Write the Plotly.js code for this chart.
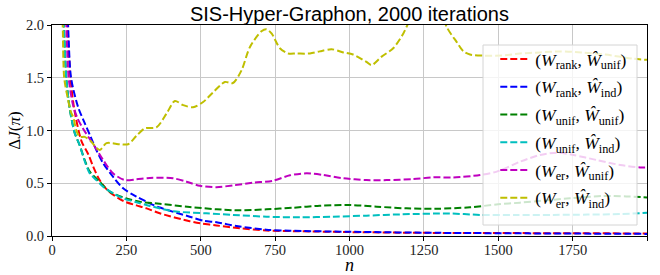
<!DOCTYPE html>
<html>
<head>
<meta charset="utf-8">
<script src="https://cdn.plot.ly/plotly-3.0.1.min.js"></script>
<style>html,body{margin:0;padding:0;background:#fff;}#chart{width:660px;height:275px;}</style>
</head>
<body>
<div id="chart"></div>
<script>
// ---- data ----
const seriesNames = [
  '(<i>W</i><sub>rank</sub>, <i>Ŵ</i><sub>unif</sub>)',
  '(<i>W</i><sub>rank</sub>, <i>Ŵ</i><sub>ind</sub>)',
  '(<i>W</i><sub>unif</sub>, <i>Ŵ</i><sub>unif</sub>)',
  '(<i>W</i><sub>unif</sub>, <i>Ŵ</i><sub>ind</sub>)',
  '(<i>W</i><sub>er</sub>, <i>Ŵ</i><sub>unif</sub>)',
  '(<i>W</i><sub>er</sub>, <i>Ŵ</i><sub>ind</sub>)'
];
const seriesColors = ['#ff0000', '#0000ff', '#008000', '#00bfbf', '#bf00bf', '#bfbf00'];

const rankUnifN = [38, 52, 62, 75, 99, 121, 138, 160, 188, 228, 250, 284, 318, 362, 463, 500, 553, 631, 721, 833, 1000, 1250, 1500, 1750, 2000];
const rankUnifV = [2.8, 2.0, 1.5, 1.2, 0.9, 0.78, 0.66, 0.53, 0.43, 0.35, 0.32, 0.29, 0.262, 0.215, 0.14, 0.12, 0.1, 0.073, 0.052, 0.045, 0.037, 0.03, 0.028, 0.026, 0.024];

const rankIndN = [40, 54, 64, 88, 110, 127, 149, 172, 205, 239, 284, 329, 362, 463, 510, 553, 620, 720, 800, 1000, 1300, 1600, 2000];
const rankIndV = [2.8, 2.0, 1.5, 1.22, 1.07, 0.96, 0.815, 0.69, 0.562, 0.452, 0.373, 0.31, 0.27, 0.183, 0.145, 0.13, 0.095, 0.06, 0.05, 0.04, 0.03, 0.025, 0.02];

const unifUnifN = [30, 40, 48, 60, 76, 93, 110, 127, 160, 194, 250, 295, 362, 463, 553, 631, 721, 811, 900, 1001, 1092, 1192, 1290, 1405, 1500, 1573, 1660, 1741, 1853, 1930, 2000];
const unifUnifV = [2.8, 2.0, 1.5, 1.2, 0.98, 0.86, 0.72, 0.61, 0.515, 0.42, 0.357, 0.325, 0.305, 0.275, 0.253, 0.243, 0.253, 0.268, 0.287, 0.294, 0.278, 0.262, 0.258, 0.272, 0.3, 0.316, 0.338, 0.357, 0.38, 0.375, 0.366];

const unifIndN = [30, 40, 48, 60, 76, 93, 110, 127, 149, 172, 205, 239, 284, 329, 407, 519, 609, 721, 833, 945, 1057, 1170, 1338, 1439, 1560, 1685, 1800, 1910, 2000];
const unifIndV = [2.8, 2.0, 1.5, 1.2, 0.98, 0.86, 0.71, 0.594, 0.53, 0.467, 0.405, 0.357, 0.32, 0.285, 0.235, 0.215, 0.2, 0.183, 0.177, 0.183, 0.193, 0.205, 0.213, 0.2, 0.198, 0.2, 0.203, 0.208, 0.22];

const erUnifN = [35, 48, 56, 70, 85, 104, 144, 172, 205, 245, 284, 329, 407, 452, 497, 553, 609, 676, 743, 800, 856, 912, 979, 1057, 1125, 1214, 1282, 1349, 1439, 1495, 1573, 1640, 1697, 1753, 1831, 1910, 1977, 2000];
const erUnifV = [2.8, 2.0, 1.5, 1.25, 1.12, 1.02, 0.846, 0.72, 0.594, 0.53, 0.537, 0.55, 0.547, 0.515, 0.476, 0.463, 0.48, 0.505, 0.524, 0.575, 0.594, 0.578, 0.547, 0.53, 0.53, 0.54, 0.556, 0.555, 0.578, 0.61, 0.704, 0.768, 0.79, 0.768, 0.72, 0.673, 0.65, 0.65];

const erIndN = [28, 36, 41, 52, 63, 72, 82, 93, 110, 130, 160, 183, 228, 256, 284, 312, 351, 385, 413, 441, 474, 508, 541, 581, 608, 637, 665, 704, 721, 738, 766, 794, 822, 867, 900, 940, 979, 1012, 1057, 1074, 1108, 1147, 1181, 1198, 1230, 1265, 1300, 1327, 1360, 1383, 1405, 1450, 1510, 1573, 1640, 1707, 1780, 1860, 1954, 2000];
const erIndV = [2.8, 2.0, 1.5, 1.32, 1.18, 1.12, 1.0, 0.94, 0.94, 0.9, 0.815, 0.88, 0.87, 0.87, 0.95, 1.02, 1.03, 1.16, 1.28, 1.24, 1.22, 1.27, 1.36, 1.46, 1.45, 1.57, 1.79, 1.94, 1.96, 1.92, 1.78, 1.73, 1.73, 1.73, 1.75, 1.77, 1.74, 1.72, 1.65, 1.62, 1.70, 1.78, 1.92, 2.02, 2.2, 2.28, 2.2, 1.98, 1.84, 1.75, 1.72, 1.71, 1.71, 1.73, 1.74, 1.75, 1.74, 1.72, 1.68, 1.67];

const xTickVals = [0, 250, 500, 750, 1000, 1250, 1500, 1750, 2000];
const yTickVals = [0, 0.5, 1.0, 1.5, 2.0];
const titleText = 'SIS-Hyper-Graphon, 2000 iterations';

// ---- build traces ----
const xs = [rankUnifN, rankIndN, unifUnifN, unifIndN, erUnifN, erIndN];
const ys = [rankUnifV, rankIndV, unifUnifV, unifIndV, erUnifV, erIndV];
const traces = xs.map((x, i) => ({
  type: 'scatter', mode: 'lines', x: x, y: ys[i], name: seriesNames[i],
  legendgroup: 'g' + i,
  line: {color: seriesColors[i], width: 2, dash: '7px,3px', shape: 'spline', smoothing: 0.8}
}));

const serif = '"Liberation Serif", "DejaVu Serif", serif';
const layout = {
  width: 660, height: 275,
  margin: {l: 52, r: 13, t: 25, b: 39},
  paper_bgcolor: '#fff', plot_bgcolor: '#fff',
  title: {text: titleText, font: {family: '"Liberation Sans", Arial, sans-serif', size: 20, color: '#000'},
          x: 0.5295, xanchor: 'center', xref: 'container', y: 1 - 21 / 275, yanchor: 'bottom', yref: 'container'},
  xaxis: {range: [0, 2000], tickvals: xTickVals, ticktext: xTickVals.map(String),
          showgrid: true, gridcolor: '#c8c8c8', gridwidth: 1, zeroline: false,
          showline: true, mirror: true, linecolor: '#000', linewidth: 1,
          ticks: 'outside', ticklen: 4, tickcolor: '#000', ticklabelstandoff: -3,
          tickfont: {family: serif, size: 14.5, color: '#222'},
          title: {text: '<i>n</i>', font: {family: serif, size: 18, color: '#000'}, standoff: 5}},
  yaxis: {range: [0, 2], tickvals: yTickVals, ticktext: yTickVals.map(v => v.toFixed(1)),
          showgrid: true, gridcolor: '#c8c8c8', gridwidth: 1, zeroline: false,
          showline: true, mirror: true, linecolor: '#000', linewidth: 1,
          ticks: 'outside', ticklen: 4, tickcolor: '#000',
          tickfont: {family: serif, size: 14.5, color: '#222'},
          title: {text: 'Δ<i>J</i>(<i>π</i>)', font: {family: serif, size: 17, color: '#000'}, standoff: 1}},
  shapes: [{type: 'rect', xref: 'paper', yref: 'paper', layer: 'above',
            x0: 0.7244, x1: 0.9832, y0: 0.0521, y1: 0.9052,
            fillcolor: 'rgba(255,255,255,0.8)', line: {color: '#d4d4d4', width: 1}}],
  showlegend: true,
  legend: {x: 0.745, y: 0.924, xanchor: 'left', yanchor: 'top',
           bgcolor: 'rgba(0,0,0,0)', borderwidth: 0,
           font: {family: serif, size: 17.5, color: '#000'}, tracegroupgap: 2}
};

Plotly.newPlot('chart', traces, layout, {staticPlot: true, displayModeBar: false});
</script>
</body>
</html>
